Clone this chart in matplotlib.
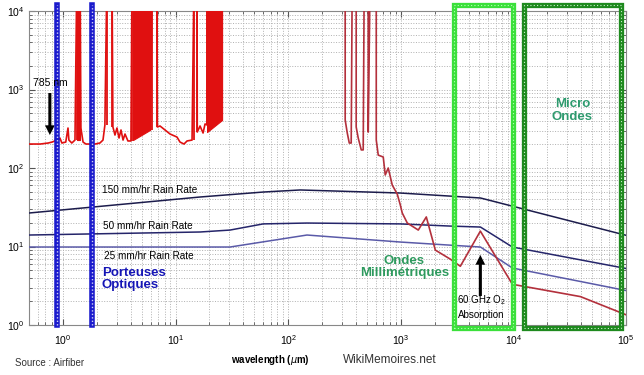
import numpy as np
import matplotlib
matplotlib.use("Agg")
import matplotlib.pyplot as plt
from matplotlib.patches import Rectangle
import matplotlib.transforms as mtransforms

plt.rcParams['font.family'] = ['Liberation Sans', 'DejaVu Sans']
plt.rcParams['mathtext.fontset'] = 'custom'
plt.rcParams['mathtext.rm'] = 'Liberation Sans'
plt.rcParams['path.simplify'] = False  # garder les pics étroits

TOP = 3e4  # valeur hors cadre (pics coupés en haut)

# spectre atmosphérique, partie optique / IR (µm, dB/km)
red_left_wl = [0.50, 0.63, 0.74, 0.80, 0.85, 0.88, 0.90, 0.94, 0.98, 1.06, 1.11, 1.13,
               1.20, 1.28, 1.33, 1.42, 1.445, 1.51, 1.60, 1.93, 2.13, 2.27, 2.36, 2.46,
               2.73, 2.78, 2.90, 3.02, 3.15, 3.28, 3.42, 3.56, 3.78, 4.02, 4.11, 5.93,
               6.00, 6.18, 6.85, 6.90, 7.28, 8.07, 8.94, 10.3, 10.96, 11.9, 12.66, 14.02,
               14.6, 15.53, 15.6, 16.51, 17.56, 18.29, 19.05, 19.05]
red_left_att = [202, 202, 208, 214, 221, 256, 221, 241, 208, 214, 323, 227,
                208, 227, TOP, TOP, 323, 214, 202, 202, 208, 227, 353, TOP,
                TOP, 333, 263, 323, 241, 305, 227, 271, 221, 221, TOP, TOP,
                305, TOP, TOP, 333, 343, 305, 271, 248, 214, 202, 221, 227,
                TOP, TOP, 287, 343, 279, 364, 353, TOP]

# flancs des raies étroites (µm, bas du flanc)
spike_wl = [1.33, 1.42, 2.46, 2.73, 4.11, 6.18, 6.85, 14.6, 15.53, 19.05]
spike_low = [227, 323, 353, 333, 221, 305, 333, 227, 287, 353]

# bandes d'absorption pleines (début, fin, bas début, bas fin)
band_start = [1.33, 4.19, 19.05]
band_end = [1.42, 5.93, 25.91]
band_low_start = [230, 227, 287]
band_low_end = [230, 305, 409]

# partie millimétrique / micro-ondes
red_right_wl = [321, 321, 335, 349, 363, 371, 402, 402, 419, 446, 464, 474, 514, 514, 535,
                606, 606, 631, 699, 728, 774, 840, 931, 991, 1031, 1143, 1431, 1686,
                2027, 2754, 3380, 5090, 9800, 39400, 100000]
red_right_att = [TOP, 409, 279, 208, 208, TOP, TOP, 333, 241, 170, 170, TOP, TOP, 287, TOP,
                 TOP, 227, 146, 138, 81.5, 100, 60.7, 46.5, 33.8, 26.7, 19.9, 16.2, 23.8,
                 9.0, 6.9, 5.6, 15.7, 3.3, 2.3, 1.35]

# pluie
rain150_wl = [0.5, 16.5, 60, 128, 991, 5100, 100000]
rain150 = [26.7, 42.7, 49.4, 52.5, 48.0, 41.5, 13.9]
rain50_wl = [0.5, 16.5, 30.5, 60, 147, 991, 2754, 5100, 9800, 100000]
rain50 = [14.0, 15.3, 16.2, 19.4, 19.9, 19.4, 18.2, 17.7, 9.85, 5.25]
rain25_wl = [0.5, 30.5, 147, 991, 2754, 5100, 9800, 100000]
rain25 = [9.85, 9.85, 14.0, 11.4, 10.4, 9.85, 5.32, 2.75]

optical_bands = [0.88, 1.82]
mmwave_box = [2990, 9900]
microwave_box = [12530, 90300]

fig = plt.figure(figsize=(6.44, 3.75), dpi=100)
ax = fig.add_axes([29/644, 50/375, 597/644, 314/375])
ax.set_xscale('log')
ax.set_yscale('log')
ax.set_xlim(0.5, 1e5)
ax.set_ylim(1, 1e4)

ax.grid(True, which='both', linestyle=':', color='#b0b0b0', lw=0.7)
ax.tick_params(which='both', direction='in', top=True, right=True, color='#555555',
               labelsize=7.5)
ax.tick_params(which='major', length=4)
ax.tick_params(which='minor', length=2.5)
ax.tick_params(axis='x', pad=6)
for s in ax.spines.values():
    s.set_color('#888888')

ax.plot(rain150_wl, rain150, color='#1c1c4c', lw=1.1, zorder=3)
ax.plot(rain50_wl, rain50, color='#25256a', lw=1.1, zorder=3)
ax.plot(rain25_wl, rain25, color='#5a5aa8', lw=1.1, zorder=3)

# spectre rouge (au-dessus du reste)
ax.plot(red_left_wl, red_left_att, color='#e01010', lw=1.2, zorder=6)
ax.vlines(spike_wl, spike_low, 1e4, color='#e01010', lw=1.3, zorder=6)
for a, b, la, lb in zip(band_start, band_end, band_low_start, band_low_end):
    ax.fill_between([a, b], [la, lb], [TOP, TOP], color='#e01010', lw=0.8, zorder=6)
ax.plot(red_right_wl, red_right_att, color='#b3303c', lw=1.2, zorder=6)

# bandes bleues
for wl in optical_bands:
    ax.axvline(wl, ymin=0, ymax=1.02, color='#1a1acc', lw=4.0, clip_on=False, zorder=7)
    ax.axvline(wl, ymin=0, ymax=1.02, color='white', lw=1.0, ls=(0, (1, 1.5)),
               alpha=0.8, clip_on=False, zorder=7)

trans = mtransforms.blended_transform_factory(ax.transData, ax.transAxes)
r1 = Rectangle((mmwave_box[0], -0.008), mmwave_box[1] - mmwave_box[0], 1.027,
               transform=trans, fill=False, ec='#3be03b', lw=3.8, clip_on=False, zorder=7)
ax.add_patch(r1)
r1b = Rectangle((mmwave_box[0], -0.008), mmwave_box[1] - mmwave_box[0], 1.027,
                transform=trans, fill=False, ec='#b8ffb8', lw=0.8, ls=(0, (1, 2)),
                clip_on=False, zorder=7)
ax.add_patch(r1b)
r2 = Rectangle((microwave_box[0], -0.008), microwave_box[1] - microwave_box[0], 1.027,
               transform=trans, fill=False, ec='#1e8a1e', lw=3.8, clip_on=False, zorder=7)
ax.add_patch(r2)
r2b = Rectangle((microwave_box[0], -0.008), microwave_box[1] - microwave_box[0], 1.027,
                transform=trans, fill=False, ec='#d0f0d0', lw=0.8, ls=(0, (1, 2)),
                clip_on=False, zorder=7)
ax.add_patch(r2b)

# annotations
ax.text(0.541, 1210, '785 nm', fontsize=7.5, ha='left', va='center', zorder=8)
ax.annotate('', xy=(0.766, 263), xytext=(0.766, 902),
            arrowprops=dict(width=2.2, headwidth=7, headlength=7, color='black', lw=0))
ax.text(2.22, 52.5, '150 mm/hr Rain Rate', fontsize=7.2, va='center')
ax.text(2.27, 18.2, '50 mm/hr Rain Rate', fontsize=7.2, va='center')
ax.text(2.32, 7.57, '25 mm/hr Rain Rate', fontsize=7.2, va='center')
ax.text(2.22, 3.85, 'Porteuses\nOptiques', fontsize=9.5, fontweight='bold',
        color='#1515b5', va='center', linespacing=1.1)
ax.text(1074, 5.48, 'Ondes\nMillimétriques', fontsize=9.5, fontweight='bold',
        color='#2e9a5e', ha='center', va='center', linespacing=1.1)
ax.text(33450, 540, 'Micro\nOndes', fontsize=9.5, fontweight='bold',
        color='#2e9a6e', ha='center', va='center', linespacing=1.1)
ax.text(5195, 2.08, '60 GHz O$_2$', fontsize=7, ha='center', va='center')
ax.text(5195, 1.34, 'Absorption', fontsize=7, ha='center', va='center')
ax.annotate('', xy=(5090, 7.8), xytext=(5090, 2.34),
            arrowprops=dict(width=2.2, headwidth=7, headlength=7, color='black', lw=0))

fig.text(270/644, 1 - 360/375, 'wavelength ($\\mu$m)', fontsize=7, fontweight='bold',
         ha='center', va='center')
fig.text(390/644, 1 - 360/375, 'WikiMemoires.net', fontsize=8.5, color='#333333',
         ha='center', va='center')
fig.text(15/644, 1 - 363/375, 'Source : Airfiber', fontsize=7, color='#333333',
         ha='left', va='center')

fig.savefig('out.png', dpi=100)
